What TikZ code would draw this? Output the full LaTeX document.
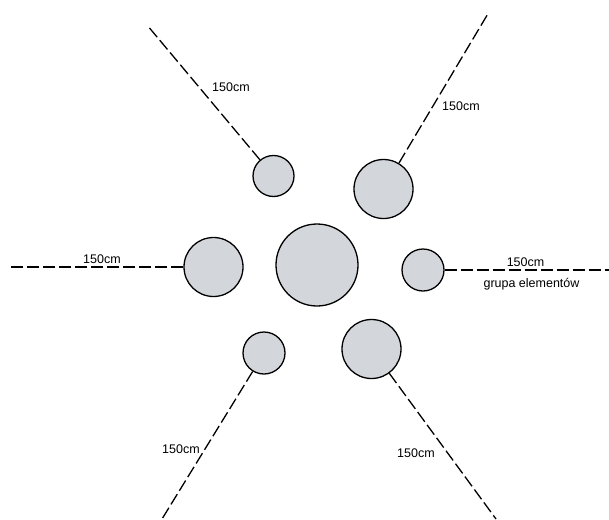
\documentclass[tikz,border=0pt]{standalone}
\usepackage{fontspec}
\setmainfont{Liberation Sans}
\definecolor{disc}{RGB}{211,214,218}
\begin{document}
\begin{tikzpicture}[x=1pt,y=-1pt,
  disc/.style={circle,draw=black,line width=1.3pt,fill=disc,inner sep=0pt,minimum size=#1},
  meas/.style={draw=black,line width=1.3pt,dash pattern=on 12pt off 4pt},
  lbl/.style={font=\fontsize{12.5}{14}\selectfont,inner sep=0pt}]
\useasboundingbox (0,0) rectangle (609,519);
% circles
\node[disc=82pt]  (c)  at (317,265) {};
\node[disc=41pt]  (tl) at (273.5,176) {};
\node[disc=59pt]  (tr) at (383.5,189) {};
\node[disc=59pt]  (l)  at (213.5,267) {};
\node[disc=42pt]  (r)  at (423,270) {};
\node[disc=42pt]  (bl) at (264,353) {};
\node[disc=59pt]  (br) at (371.5,349) {};
% free ends
\coordinate (tlE) at (147,25);
\coordinate (trE) at (489,12);
\coordinate (lE)  at (8,267);
\coordinate (rE)  at (609,270);
\coordinate (blE) at (162,519);
\coordinate (brE) at (496,519);
% lines
\draw[meas] (tl) -- (tlE);
\draw[meas] (tr) -- (trE);
\draw[meas] (l)  -- (lE);
\draw[meas] (r)  -- (rE);
\draw[meas] (bl) -- (blE);
\draw[meas] (br) -- (brE);
% labels
\node[lbl] (t1) at (231,87.5) {150cm};
\node[lbl] (t2) at (461,106)  {150cm};
\node[lbl] (t3) at (102,259)  {150cm};
\node[lbl] (t4) at (525.5,262) {150cm};
\node[lbl] (t5) at (531.5,284) {grupa elementów};
\node[lbl] (t6) at (181,449)  {150cm};
\node[lbl] (t7) at (416,453)  {150cm};
\end{tikzpicture}
\end{document}
